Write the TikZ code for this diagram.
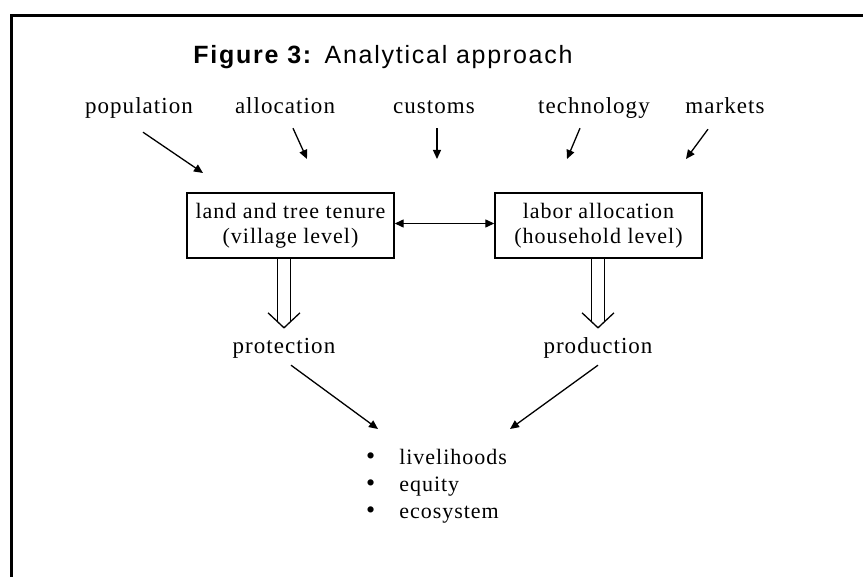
\documentclass[tikz,border=0pt]{standalone}
\usepackage{fontspec}
\setmainfont[LetterSpace=4.5]{Liberation Serif}
\newfontfamily\headfont[LetterSpace=7]{Liberation Sans}
\usetikzlibrary{arrows.meta}

\tikzset{
  lbl/.style={font=\fontsize{23}{25}\selectfont, inner sep=2pt, text height=15pt, text depth=5pt, anchor=base},
  box/.style={draw, line width=1.4pt, minimum width=207pt, minimum height=65pt, align=center, font=\fontsize{22}{25}\selectfont},
  arr/.style={line width=1.3pt, -{Triangle[length=9pt,width=8pt]}},
  hollow/.style={double, double distance=11.5pt, line width=1.3pt, shorten <=0.7pt},
  wing/.style={line width=1.3pt, line join=miter},
}

% open double arrow from the bottom of box #1 down to label #2
\newcommand\hollowdown[2]{%
  \coordinate (#2-tip) at ([yshift=9pt]#2.north);
  \draw[hollow] (#1.south -| #2-tip) -- ([yshift=6pt]#2-tip);
  \draw[wing] ([shift={(-16,-15)}]#2-tip) -- (#2-tip) -- ([shift={(16,-15)}]#2-tip);
}
\newcommand\outbullet{{\fontsize{26}{27}\selectfont\textbullet}}

\begin{document}
\begin{tikzpicture}[x=1pt,y=-1pt]
    \useasboundingbox (0,0) rectangle (863,577);
    \draw[line width=3pt] (863,16) -- (11,16) -- (11,577);

    \node[font=\headfont\fontsize{25}{27}\selectfont, anchor=base] (title) at (383,64) {\textbf{Figure 3:} Analytical approach};

    % outside influences
    \node[lbl] (pop) at (139,114) {population};
    \node[lbl] (alloc) at (285,114) {allocation};
    \node[lbl] (cust) at (434,114) {customs};
    \node[lbl] (tech) at (594,114) {technology};
    \node[lbl] (mark) at (725,114) {markets};

    \coordinate (pop-end) at (203,173);
    \coordinate (alloc-end) at (307,159);
    \coordinate (cust-end) at (437,159);
    \coordinate (tech-end) at (567,159);
    \coordinate (mark-end) at (686,159);

    \draw[arr] ([xshift=4pt,yshift=-11pt]pop.south) -- (pop-end);
    \draw[arr] ([xshift=8pt,yshift=-7pt]alloc.south) -- (alloc-end);
    \draw[arr] ([xshift=3pt,yshift=-7pt]cust.south) -- (cust-end);
    \draw[arr] ([xshift=-14pt,yshift=-7pt]tech.south) -- (tech-end);
    \draw[arr] ([xshift=-17pt,yshift=-8pt]mark.south) -- (mark-end);

    % the two levels
    \node[box] (tenure) at (290.5,225.5) {land and tree tenure\\(village level)};
    \node[box] (labor) at (598.5,225.5) {labor allocation\\(household level)};

    \draw[line width=1.3pt, {Triangle[length=9pt,width=8pt]}-{Triangle[length=9pt,width=8pt]}] ([yshift=2pt]tenure.east) -- ([yshift=2pt]labor.west);

    \node[lbl] (protect) at (284,354) {protection};
    \node[lbl] (produce) at (598,354) {production};

    \hollowdown{tenure}{protect}
    \hollowdown{labor}{produce}

    % outcomes
    \node[anchor=base west, font=\fontsize{22}{27}\selectfont, inner sep=0pt] (outcomes) at (366,465)
      {\begin{tabular}[t]{@{}l@{\hspace{24pt}}l@{}}\outbullet & livelihoods\\ \outbullet & equity\\ \outbullet & ecosystem\end{tabular}};

    \coordinate (prot-end) at (378,429);
    \coordinate (prod-end) at (510,429);
    \draw[arr] ([xshift=7pt,yshift=-4pt]protect.south) -- (prot-end);
    \draw[arr] ([yshift=-4pt]produce.south) -- (prod-end);
\end{tikzpicture}
\end{document}
